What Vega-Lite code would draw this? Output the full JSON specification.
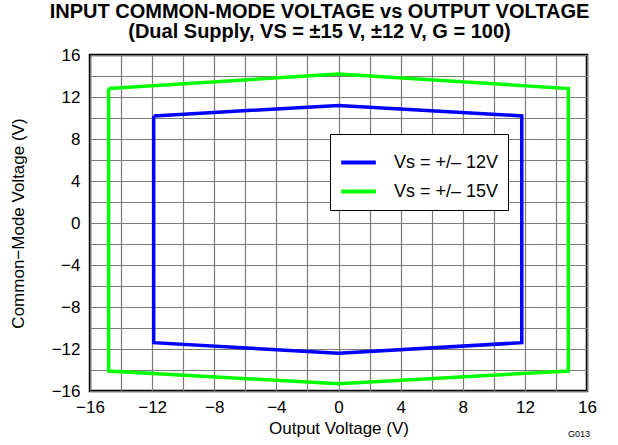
{
  "$schema": "https://vega.github.io/schema/vega-lite/v6.json",
  "autosize": "none",
  "width": 497,
  "height": 336,
  "padding": {"left": 90, "top": 55, "right": 31, "bottom": 54},
  "background": "white",
  "config": {
    "font": "Liberation Sans",
    "view": {"stroke": "black", "strokeWidth": 2.5},
    "axis": {"grid": true, "gridColor": "#7a7a7a", "gridOpacity": 1, "gridWidth": 1.2, "domain": false, "ticks": false, "labelFont": "Liberation Sans", "titleFont": "Liberation Sans", "labelColor": "black", "titleColor": "black", "labelFontSize": 17, "titleFontSize": 17, "titleFontWeight": "normal"}
  },
  "title": {
    "text": ["INPUT COMMON-MODE VOLTAGE vs OUTPUT VOLTAGE", "(Dual Supply, VS = ±15 V, ±12 V, G = 100)"],
    "font": "Liberation Sans",
    "fontSize": 20,
    "fontWeight": "bold",
    "color": "black",
    "anchor": "middle",
    "dx": -19,
    "offset": 4,
    "lineHeight": 20
  },
  "encoding": {
    "x": {"field": "x", "type": "quantitative", "scale": {"domain": [-16, 16], "nice": false},
      "axis": {"grid": true, "values": [-16,-14,-12,-10,-8,-6,-4,-2,0,2,4,6,8,10,12,14,16], "labelExpr": "datum.value % 4 == 0 ? datum.label : ''", "title": "Output Voltage (V)", "labelPadding": 8, "titlePadding": 5, "labelFlush": false}},
    "y": {"field": "y", "type": "quantitative", "scale": {"domain": [-16, 16], "nice": false},
      "axis": {"grid": true, "values": [-16,-14,-12,-10,-8,-6,-4,-2,0,2,4,6,8,10,12,14,16], "labelExpr": "datum.value % 4 == 0 ? datum.label : ''", "title": "Common−Mode Voltage (V)", "labelPadding": 10, "titlePadding": 24, "labelFlush": false}}
  },
  "layer": [
    {
      "data": {"values": [
        {"series": "Vs = +/– 12V", "ord": 1, "x": -11.9, "y": 10.2},
        {"series": "Vs = +/– 12V", "ord": 2, "x": 0, "y": 11.2},
        {"series": "Vs = +/– 12V", "ord": 3, "x": 11.8, "y": 10.2},
        {"series": "Vs = +/– 12V", "ord": 4, "x": 11.8, "y": -11.4},
        {"series": "Vs = +/– 12V", "ord": 5, "x": 0, "y": -12.4},
        {"series": "Vs = +/– 12V", "ord": 6, "x": -11.9, "y": -11.4},
        {"series": "Vs = +/– 12V", "ord": 7, "x": -11.9, "y": 10.2},
        {"series": "Vs = +/– 15V", "ord": 1, "x": -14.8, "y": 12.8},
        {"series": "Vs = +/– 15V", "ord": 2, "x": 0, "y": 14.2},
        {"series": "Vs = +/– 15V", "ord": 3, "x": 14.8, "y": 12.8},
        {"series": "Vs = +/– 15V", "ord": 4, "x": 14.8, "y": -14.1},
        {"series": "Vs = +/– 15V", "ord": 5, "x": 0, "y": -15.3},
        {"series": "Vs = +/– 15V", "ord": 6, "x": -14.8, "y": -14.1},
        {"series": "Vs = +/– 15V", "ord": 7, "x": -14.8, "y": 12.8}
      ]},
      "mark": {"type": "line", "strokeWidth": 3.5, "strokeJoin": "miter", "clip": true},
      "encoding": {
        "order": {"field": "ord"},
        "color": {"field": "series", "type": "nominal",
          "scale": {"domain": ["Vs = +/– 12V", "Vs = +/– 15V"], "range": ["#0000ff", "#00ff00"]},
          "legend": {"title": null, "orient": "none", "legendX": 240, "legendY": 79, "symbolType": "stroke", "symbolStrokeWidth": 4, "symbolSize": 1200, "labelFontSize": 18, "labelFont": "Liberation Sans", "labelColor": "black", "strokeColor": "black", "fillColor": "white", "padding": 9, "rowPadding": 0, "labelOffset": 16, "cornerRadius": 0}}
      }
    },
    {
      "data": {"values": [{"t": "G013", "x": 16, "y": -16}]},
      "mark": {"type": "text", "fontSize": 9, "font": "Liberation Sans", "align": "right", "baseline": "bottom", "dy": 48, "dx": 3, "color": "black"},
      "encoding": {"text": {"field": "t"}}
    }
  ]
}
